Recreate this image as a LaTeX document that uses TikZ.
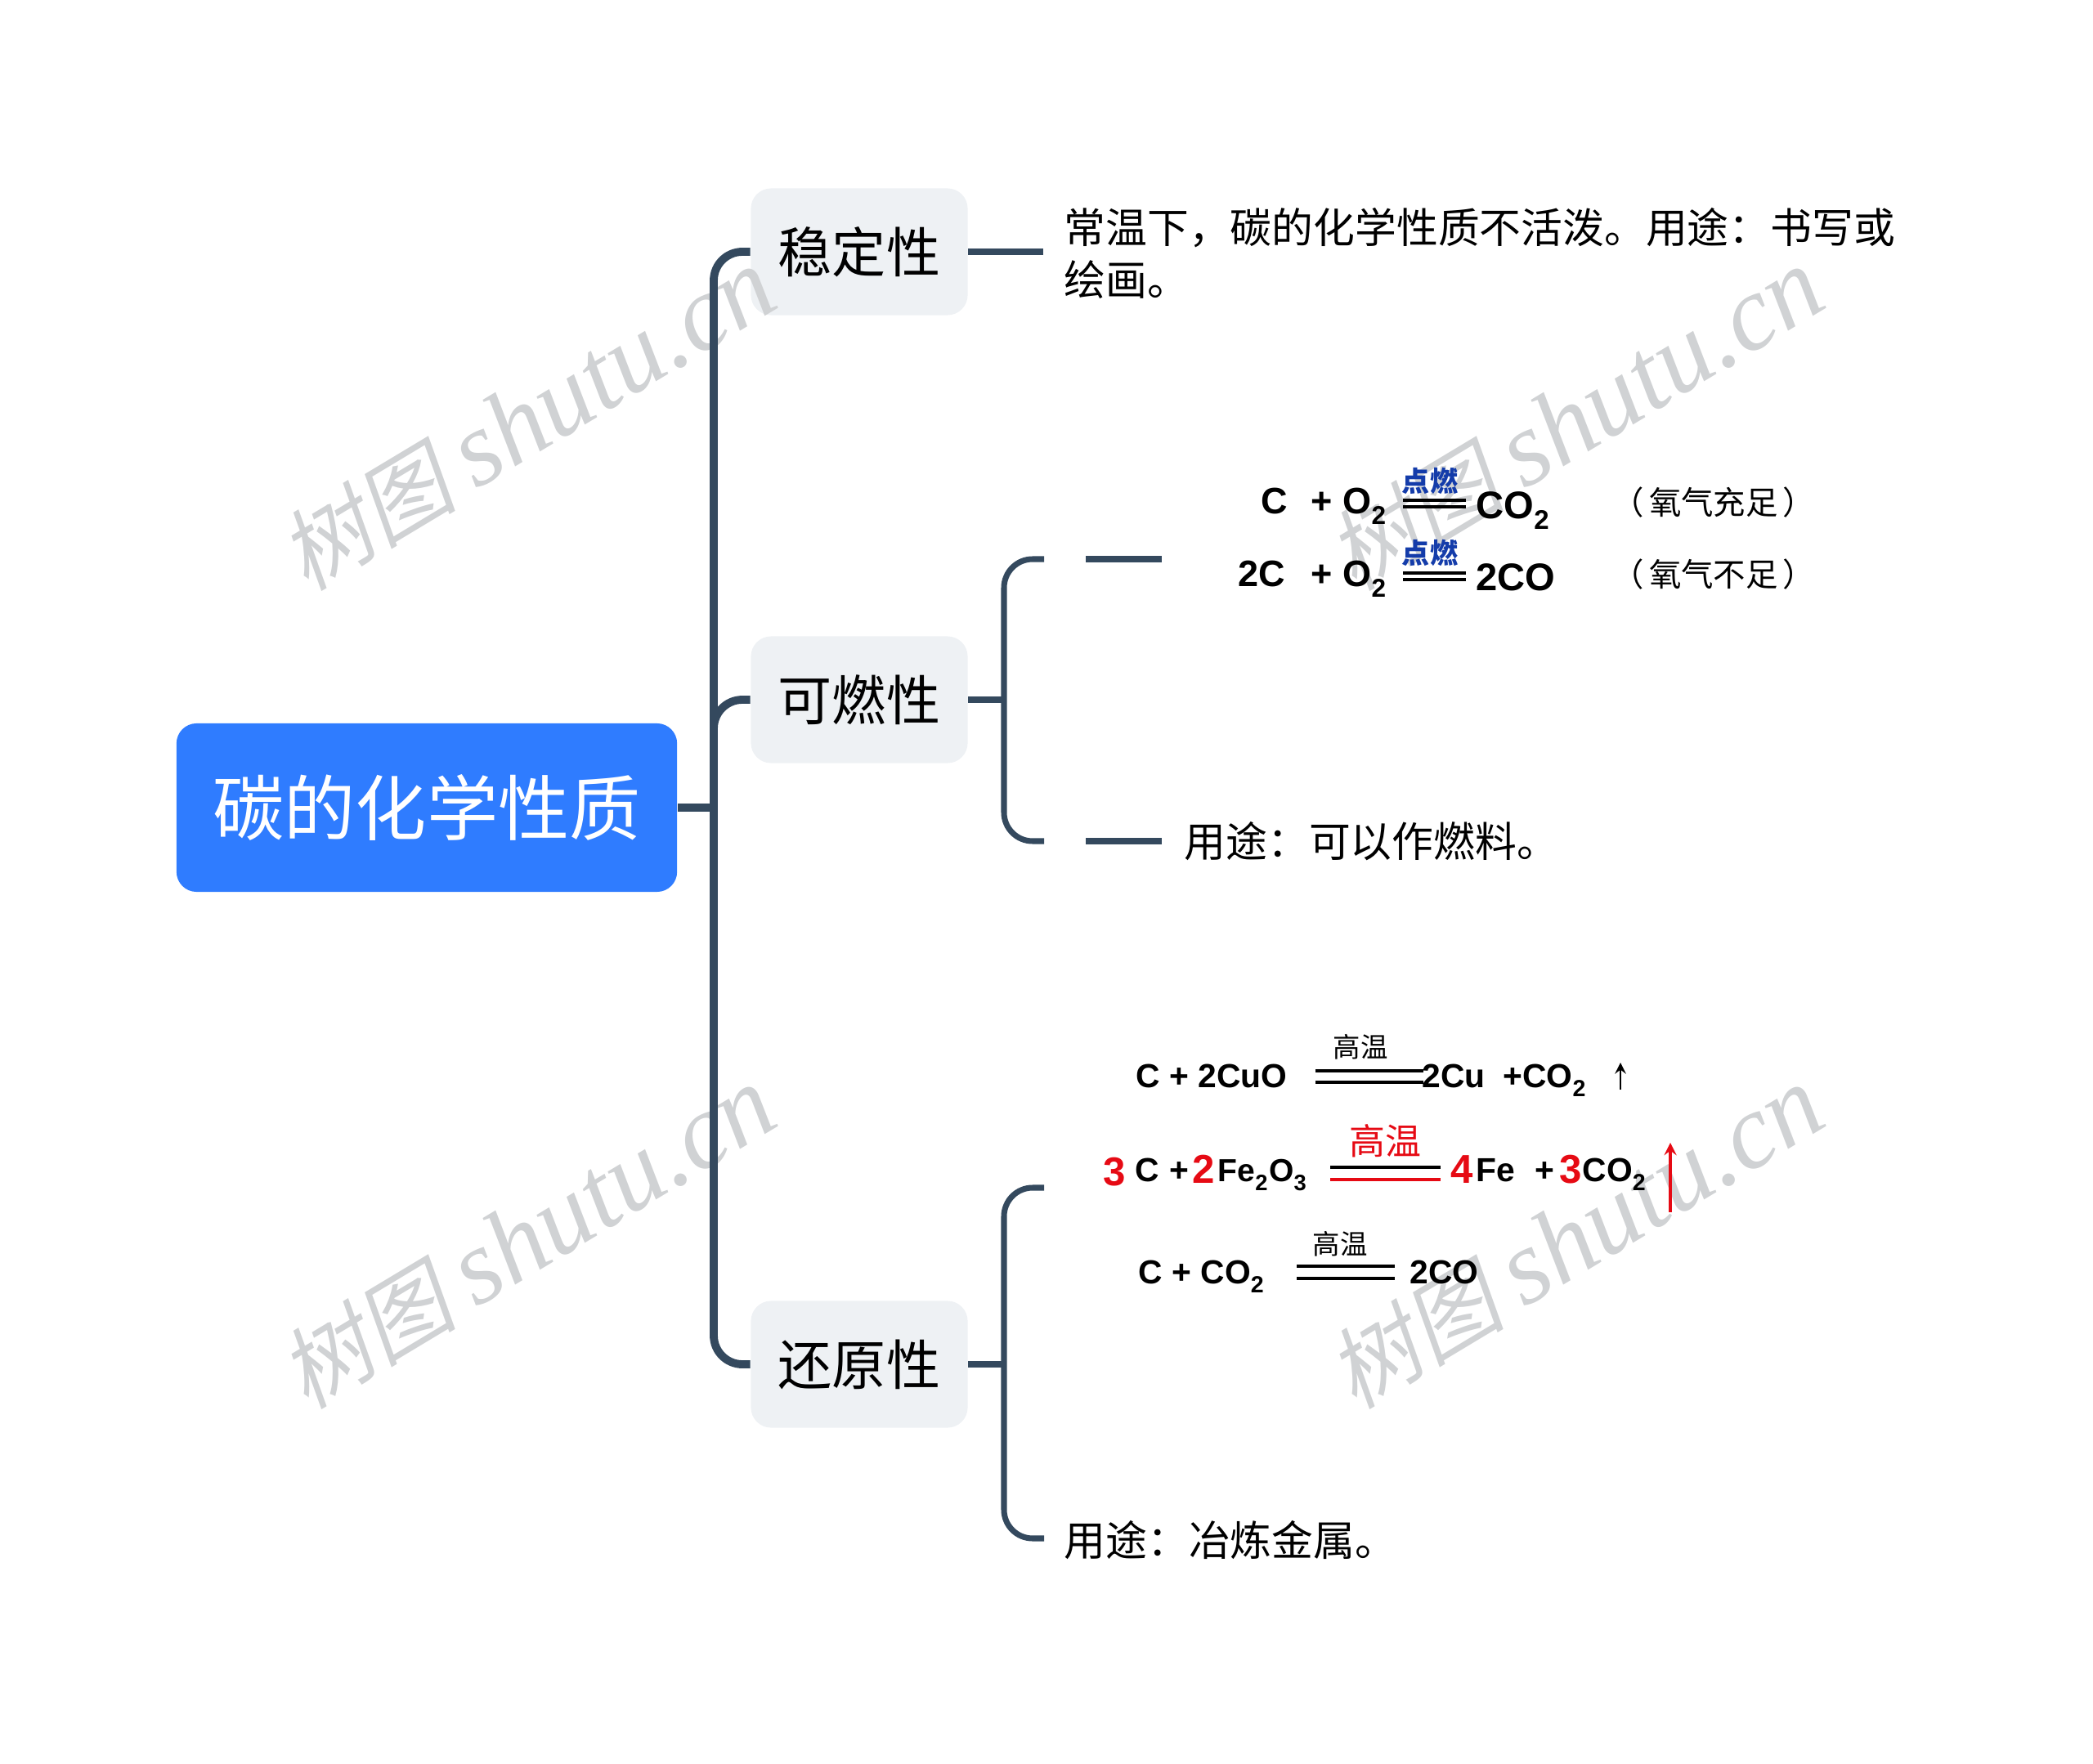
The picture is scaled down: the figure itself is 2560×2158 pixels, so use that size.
\documentclass[tikz,border=0pt]{standalone}
\usepackage{fontspec}
\setmainfont{Liberation Sans}
\newfontfamily\cjk{Noto Sans CJK SC}
\newfontfamily\cjkslant[FakeSlant=0.2]{Noto Sans CJK SC}
\newfontfamily\markfont{Liberation Serif}
\usetikzlibrary{arrows, positioning}
\definecolor{rootblue}{RGB}{47,124,255}
\definecolor{topicbg}{RGB}{238,241,244}
\definecolor{linedark}{RGB}{52,73,94}
\definecolor{markgray}{RGB}{208,210,212}
\definecolor{flameblue}{RGB}{20,60,170}
\definecolor{balancered}{RGB}{230,10,20}
\newcommand{\lowtwo}[1]{\raisebox{-1.6pt}{\textsubscript{#1}}}
\tikzset{
    rootbox/.style={fill=rootblue, rounded corners=7pt, minimum width=6.12cm, minimum height=2.06cm, inner sep=0pt, text=white, font=\fontsize{24.8}{30}\selectfont\cjk},
    topicbox/.style={fill=topicbg, rounded corners=7pt, minimum width=2.65cm, minimum height=1.55cm, inner sep=0pt, font=\fontsize{18.8}{22}\selectfont\cjk},
    leaftext/.style={anchor=west, align=left, inner sep=0pt, font=\fontsize{14.45}{18}\selectfont\cjk},
    chem/.style={anchor=base west, inner sep=0pt, font=\fontsize{11.6}{14}\selectfont\bfseries},
    burnchem/.style={chem, font=\fontsize{12.8}{14}\selectfont\bfseries},
    coef/.style={chem, text=balancered, font=\fontsize{14}{16}\selectfont\bfseries},
    heat/.style={inner sep=0pt, font=\fontsize{9.5}{11}\selectfont\cjk},
    note/.style={inner sep=0pt, font=\fontsize{11.2}{13}\selectfont\cjk},
    bond/.style={line width=1.1pt},
    branch/.style={linedark, line width=2.8pt, rounded corners=0.35cm},
    twig/.style={linedark, line width=2pt, rounded corners=0.35cm},
}
\begin{document}
\begin{tikzpicture}[x=0.01cm, y=-0.01cm]
    \useasboundingbox (0,0) rectangle (2560,2158);

    % Main nodes
    \node[rootbox] (root) at (522,988) {碳的化学性质};
    \node[topicbox] (stable) at (1051,308) {稳定性};
    \node[topicbox] (burn) at (1051,856) {可燃性};
    \node[topicbox] (reduce) at (1051,1669) {还原性};

    % Watermarks
    \foreach \i/\wx/\wy in {1/645/514, 2/1927/514, 3/645/1515, 4/1927/1515} {
        \node[rotate=31, text=markgray, inner sep=0pt] (mark\i) at (\wx,\wy)
            {\fontsize{31}{35}\cjkslant 树图 \fontsize{37}{42}\markfont\itshape shutu.cn};
    }

    % Leaf texts
    \node[leaftext] (stableuse) at (1301,310) {常温下，碳的化学性质不活泼。用途：书写或\\绘画。};
    \node[leaftext] (burnuse) at (1448,1029) {用途：可以作燃料。};
    \node[leaftext] (reduceuse) at (1301,1884) {用途：冶炼金属。};

    % Trunk
    \coordinate (hub) at (873,988);
    \draw[branch] (root.east) -- (hub);
    \draw[branch] (stable.west) -| (hub) |- (reduce.west);
    \draw[branch] (burn.west) -| (hub);

    % Branches on the right
    \coordinate (stableend) at (1276,308);
    \draw[twig] (stable.east) -- (stableend);

    \coordinate (burnhub) at (1228,856);
    \coordinate (burnup) at (1277,684);
    \coordinate (burndown) at (1277,1029);
    \draw[twig] (burn.east) -- (burnhub);
    \draw[twig] (burnup) -| (burnhub) |- (burndown);
    \coordinate (stubaa) at (1328,684);
    \coordinate (stubab) at (1421,684);
    \coordinate (stubba) at (1328,1029);
    \coordinate (stubbb) at (1421,1029);
    \draw[twig] (stubaa) -- (stubab);
    \draw[twig] (stubba) -- (stubbb);

    \coordinate (reducehub) at (1228,1669);
    \coordinate (reduceup) at (1277,1453);
    \coordinate (reducedown) at (1277,1882);
    \draw[twig] (reduce.east) -- (reducehub);
    \draw[twig] (reduceup) -| (reducehub) |- (reducedown);

    % Burning equations
    \node[burnchem] (ca) at (1542,628) {C};
    \node[burnchem] (oa) at (1603,628) {+ O\lowtwo{2}};
    \node[heat, text=flameblue, font=\fontsize{9.7}{11}\selectfont\cjk\bfseries] (flamea) at (1749,588) {点燃};
    \node[burnchem, font=\fontsize{13.4}{15}\selectfont\bfseries] (coa) at (1805,634) {CO\lowtwo{2}};
    \node[note] (enough) at (2096,615) {（\kern0.15em 氧气充足\kern0.15em）};
    \node[burnchem] (cb) at (1514,717) {2C};
    \node[burnchem] (ob) at (1603,717) {+ O\lowtwo{2}};
    \node[heat, text=flameblue, font=\fontsize{9.7}{11}\selectfont\cjk\bfseries] (flameb) at (1749,676) {点燃};
    \node[burnchem, font=\fontsize{13.4}{15}\selectfont\bfseries] (cob) at (1805,722) {2CO};
    \node[note] (lack) at (2096,703) {（\kern0.15em 氧气不足\kern0.15em）};

    % Reduction equations
    \node[chem] (cuo) at (1389,1330) {C + 2CuO};
    \node[heat] (heata) at (1664,1281) {高温};
    \node[chem] (cu) at (1739,1330) {2Cu};
    \node[chem] (coc) at (1838,1330) {+CO\lowtwo{2}};

    \node[coef] (coefa) at (1349,1450) {3};
    \node[chem] (cd) at (1388,1445) {C};
    \node[chem] (plusd) at (1430,1445) {+};
    \node[coef] (coefb) at (1458,1447) {2};
    \node[chem, font=\fontsize{11.1}{14}\selectfont\bfseries] (feo) at (1489,1445) {Fe\lowtwo{2}O\lowtwo{3}};
    \node[heat, text=balancered, font=\fontsize{12.5}{14}\selectfont\cjk] (heatb) at (1694,1396) {高温};
    \node[coef] (coefc) at (1774,1447) {4};
    \node[chem] (fe) at (1805,1445) {Fe};
    \node[chem] (pluse) at (1877,1445) {+};
    \node[coef] (coefd) at (1907,1447) {3};
    \node[chem] (cod) at (1935,1445) {CO\lowtwo{2}};

    \node[chem] (coe) at (1392,1570) {C + CO\lowtwo{2}};
    \node[heat] (heatc) at (1639,1522) {高温};
    \node[chem] (cof) at (1724,1570) {2CO};

    % Equal signs
    \foreach \xa/\xb/\ya/\yb in {1716/1793/612/620, 1716/1793/701/709, 1609/1741/1310/1324, 1586/1706/1549/1564} {
        \draw[bond] (\xa,\ya) -- (\xb,\ya);
        \draw[bond] (\xa,\yb) -- (\xb,\yb);
    }
    \draw[bond] (1627,1428) -- (1762,1428);
    \draw[bond, balancered] (1627,1443) -- (1762,1443);

    % Gas arrows
    \draw[-stealth, line width=0.7pt] (1982,1333) -- (1982,1300);
    \draw[-stealth, balancered, line width=0.9pt] (2043,1483) -- (2043,1398);
\end{tikzpicture}
\end{document}
